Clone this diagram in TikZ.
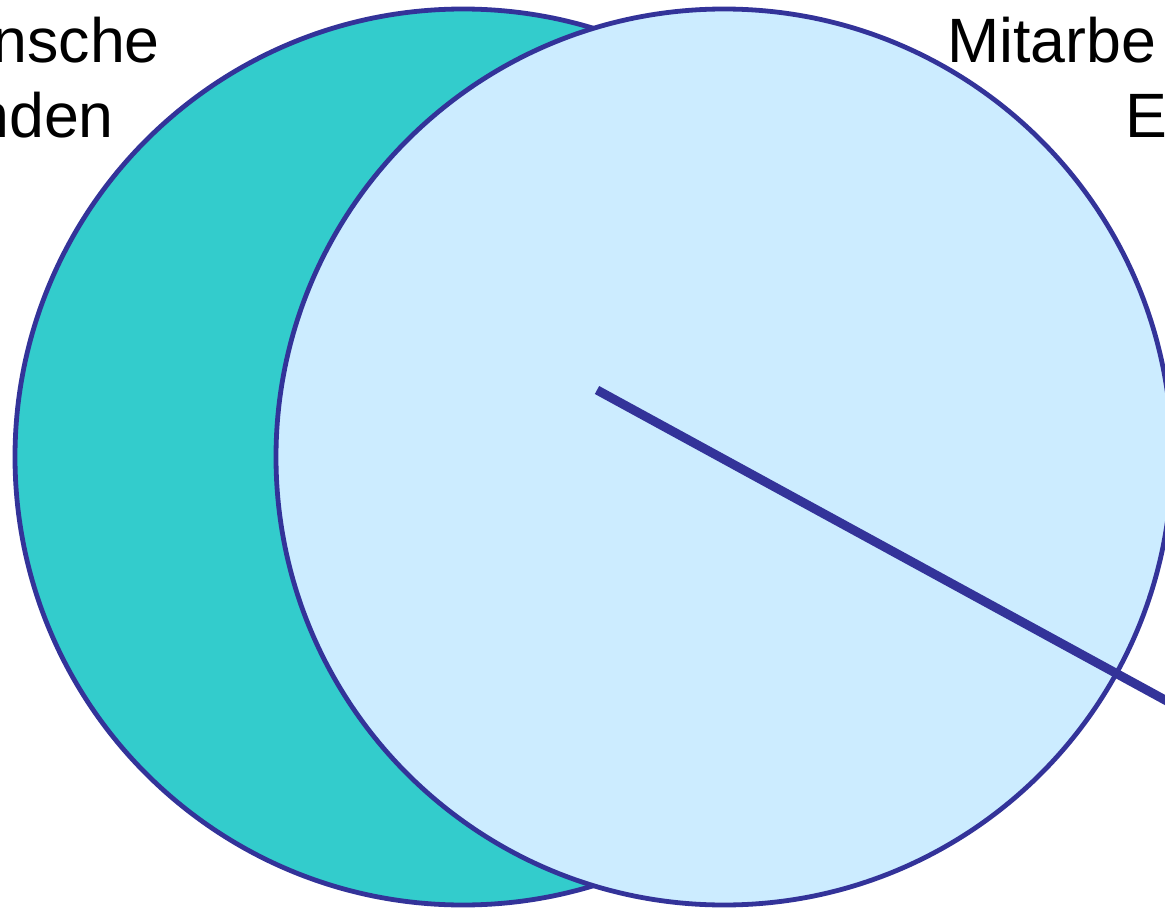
\documentclass[tikz,border=0pt]{standalone}
\usepackage{fontspec}
\setmainfont{Liberation Sans}
\usepackage{tikz}
\usetikzlibrary{positioning}
\definecolor{VennTeal}{RGB}{51,204,204}
\definecolor{VennSky}{RGB}{204,236,255}
\definecolor{VennInk}{RGB}{51,51,153}

\begin{document}
\begin{tikzpicture}[
  x=0.75pt,y=-0.75pt,
  kreis/.style={circle,draw=VennInk,line width=3.6pt,minimum size=672pt,inner sep=0pt},
  lbl/.style={inner sep=0pt,font=\fontsize{47}{56}\selectfont,text=black},
  zeiger/.style={draw=VennInk,line width=6.8pt},
]
\useasboundingbox (0,0) rectangle (1165,910);
\node[kreis,fill=VennTeal] (kunden) at (463,457) {};
\node[kreis,fill=VennSky] (mitarbeiter) at (724,457) {};
\coordinate (zeigerA) at (597,390);
\coordinate (zeigerB) at (1220,730);
\draw[zeiger] (zeigerA) -- (zeigerB);
\node[lbl,anchor=base east] (kundenA) at (160,62) {nsche};
\node[lbl,anchor=base east] (kundenB) at (114,137) {nden};
\node[lbl,anchor=base west] (mitA) at (947,62) {Mitarbe};
\node[lbl,anchor=base west] (mitB) at (1125,137) {E};
\end{tikzpicture}
\end{document}
